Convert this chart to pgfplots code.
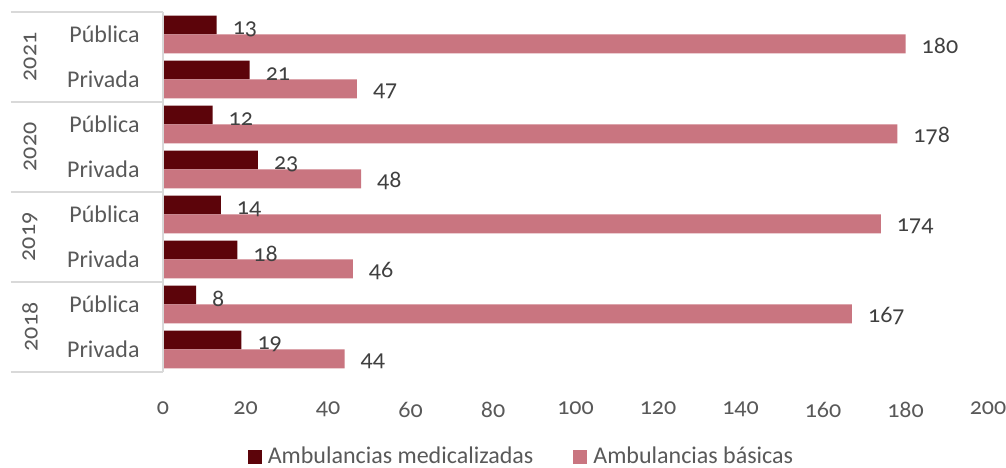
\documentclass[border=0pt]{standalone}
\usepackage{pgfplots}
\pgfplotsset{compat=1.18}
\usepackage{fontspec}
\setmainfont[Numbers=OldStyle]{Carlito}
\definecolor{darkbar}{RGB}{92,4,10}
\definecolor{lightbar}{RGB}{201,117,128}
\definecolor{txtgray}{RGB}{89,89,89}
\definecolor{lbl}{RGB}{64,64,64}
\definecolor{sep}{RGB}{217,217,217}
\begin{document}
\fontsize{24}{28}\selectfont
\begin{tikzpicture}
\path[use as bounding box] (0,0) rectangle (1006pt,468pt);
\begin{axis}[
  at={(163pt,96pt)}, anchor=south west,
  scale only axis, width=825pt, height=360pt,
  xbar,
  xmin=0, xmax=200,
  ymin=-0.5, ymax=7.5,
  xtick={0,20,...,200},
  ytick={0,...,7},
  yticklabels={Privada,Pública,Privada,Pública,Privada,Pública,Privada,Pública},
  /pgf/number format/assume math mode=true,
  axis line style={draw=none},
  tick style={draw=none},
  ticklabel style={font=\fontsize{24}{28}\selectfont, text=txtgray},
  xticklabel style={yshift=-22pt},
  yticklabel style={anchor=east, xshift=-11pt},
  bar width=0.42,
  nodes near coords,
  nodes near coords style={font=\fontsize{24}{28}\selectfont, text=lbl, anchor=west, xshift=8pt},
  legend style={at={(0.4345,-0.236)}, anchor=center, draw=none, fill=none,
    legend columns=2, font=\fontsize{24}{28}\selectfont, text=txtgray,
    /tikz/every odd column/.append style={column sep=4pt},
    /tikz/every even column/.append style={column sep=38pt},
    inner sep=0pt},
  legend image code/.code={\fill[#1] (0pt,-7pt) rectangle (14pt,7pt);},
  clip=false,
]
\addplot+[bar shift=0.21, draw=none, fill=darkbar, nodes near coords style={yshift=-4pt}] coordinates {
  (19,0) (8,1) (18,2) (14,3) (23,4) (12,5) (21,6) (13,7)};
\addplot+[bar shift=-0.21, draw=none, fill=lightbar, nodes near coords style={yshift=-2pt}] coordinates {
  (44,0) (167,1) (46,2) (174,3) (48,4) (178,5) (47,6) (180,7)};
\legend{Ambulancias medicalizadas, Ambulancias básicas}
\draw[sep, line width=1.5pt] (rel axis cs:0,0) -- (rel axis cs:0,1);
\pgfplotsinvokeforeach{-0.5,1.5,3.5,5.5,7.5}{
  \draw[sep, line width=1.5pt] ([xshift=-152pt]axis cs:0,#1) -- (axis cs:0,#1);
}
\node[rotate=90, text=txtgray, font=\fontsize{24}{28}\selectfont] at ([xshift=-133pt]axis cs:0,6.5) {2021};
\node[rotate=90, text=txtgray, font=\fontsize{24}{28}\selectfont] at ([xshift=-133pt]axis cs:0,4.5) {2020};
\node[rotate=90, text=txtgray, font=\fontsize{24}{28}\selectfont] at ([xshift=-133pt]axis cs:0,2.5) {2019};
\node[rotate=90, text=txtgray, font=\fontsize{24}{28}\selectfont] at ([xshift=-133pt]axis cs:0,0.5) {2018};
\end{axis}
\end{tikzpicture}
\end{document}
